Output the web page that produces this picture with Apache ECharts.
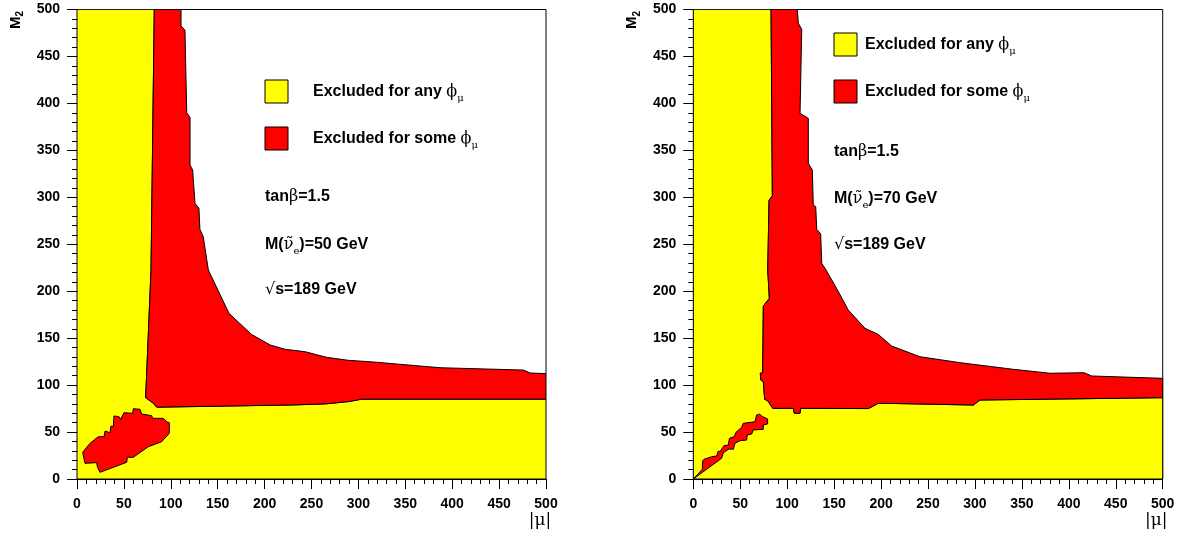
<!DOCTYPE html>
<html><head><meta charset="utf-8">
<script src="https://cdn.jsdelivr.net/npm/echarts@6/dist/echarts.min.js"></script>
<style>html,body{margin:0;padding:0;background:#fff}#c{width:1180px;height:538px}</style>
</head><body><div id="c"></div>
<script>
// ---- axis ----
const axisMin = 0, axisMax = 500, axisStep = 50;
// ---- left panel (M(sneutrino)=50 GeV) ----
const leftYellow = [[0,0],[0,500],[82.4,500],[78.9,222],[73.2,86.6],[81,81],[85,76.5],[227,78.8],[265,80],[290,82.5],[303.5,85],[500,85],[500,0]];
const leftRedMain = [[82.4,500],[78.9,222],[73.2,86.6],[81,81],[85,76.5],[227,78.8],[265,80],[290,82.5],[303.5,85],[500,85],
  [500,112.2],[483,112.9],[476,116],[387,118.5],[316,124.6],[289,126.4],[266,129.6],[243,135.6],[222,138.1],[206,142.7],[186,154],[162,176.5],
  [140,222.6],[134.6,258],[131,266],[130,288.3],[125.8,293.6],[123.3,329],[120.5,334.4],[120.5,385],[117,390],[115.1,478],[110.9,482.4],[110.9,500]];
const leftRedIsland = [[6.0,28.4],[8.5,16.7],[21,17.4],[21.7,13.1],[24.5,7.1],[53,17.8],[53.6,23.1],[60,23.1],[76,34.4],[90.3,39.7],[98.4,48.7],[98.4,60],
  [95.6,61],[92,64.6],[80.7,64.6],[79.6,67.4],[69,69.2],[67.2,74.2],[60,74.9],[59.4,70],[50.1,70.6],[46.6,63.6],[44.8,66.4],[39.4,67.1],[38.7,55.7],
  [36.2,56.4],[35.2,49.3],[29.9,51.1],[28.8,45],[22.7,45],[13.9,38]];
// ---- right panel (M(sneutrino)=70 GeV) ----
const rightYellow = [[0,0],[0,500],[82.8,500],[84.2,301.4],[80.7,297],[79.3,222.6],[81,192.4],[74.6,184.2],[73.9,113.2],[71.4,112.6],[71.8,105.4],[74.6,103.6],
  [76,84.9],[79.2,83.4],[84.6,75.3],[106.5,75.3],[107.6,70],[113.7,70],[114.3,75.3],[186.4,75],[197,80.6],[220,80.3],[298.3,78.8],[305.4,84.1],[500,86.6],[500,0]];
const rightRedMain = [[82.8,500],[84.2,301.4],[80.7,297],[79.3,222.6],[81,192.4],[74.6,184.2],[73.9,113.2],[71.4,112.6],[71.8,105.4],[74.6,103.6],
  [76,84.9],[79.2,83.4],[84.6,75.3],[106.5,75.3],[107.6,70],[113.7,70],[114.3,75.3],[186.4,75],[197,80.6],[220,80.3],[298.3,78.8],[305.4,84.1],[500,86.6],
  [500,107.2],[424.4,109.7],[416.2,113.2],[380,112.6],[340.9,116.8],[284.1,123.9],[241.5,130.2],[211.3,141.6],[197,154],[182.9,160.5],[165,180],
  [155.5,197.8],[141.4,222.6],[136.8,229.7],[135.7,260.9],[131.5,265.9],[130.4,290],[127.8,291.8],[126.8,329.1],[122.5,336.2],[122.5,384.1],
  [113.7,389.4],[115.5,478.9],[111.9,485.3],[110.8,500]];
const rightRedIsland = [[0,0],[30.2,22],[32,28],[38,32],[42.6,31.6],[44.4,38],[49.7,40.8],[56.9,41.5],[57.5,46.9],[62.2,47.9],[63.9,52.2],[74.6,52.9],
  [74.6,57.5],[79.2,58.6],[79.2,63.9],[73.9,66.4],[70.3,69.2],[67.5,68.2],[65.7,61],[53.3,59.3],[51.5,55],[45.5,49.7],[43.4,45],[38.4,43.3],[37.3,36.2],
  [32.7,35.5],[28.4,29.1],[26.6,29.8],[24.9,24.5],[19.6,23.7],[11.4,21],[10,19.5],[9.6,10.3]];
// ---- texts ----
const legendAny = 'Excluded for any ';
const legendSome = 'Excluded for some ';
const tanBetaText = 'tanβ=1.5';
const snuMasses = ['50', '70'];
const sqrtsText = 's=189 GeV';

const YELLOW = '#ffff00', RED = '#ff0000';
const FONT = '"Liberation Sans", Arial, sans-serif';
const GREEK = '"DejaVu Serif", "Liberation Serif", serif';

function polySeries(poly, color, gi, z) {
  return {
    type: 'custom', xAxisIndex: gi, yAxisIndex: gi, clip: true, z: z, silent: true,
    data: poly, encode: {x: 0, y: 1},
    renderItem: function (params, api) {
      if (params.dataIndex !== 0) return null;
      return {type: 'polygon', shape: {points: poly.map(p => api.coord(p))},
        style: {fill: color, stroke: '#000', lineWidth: 1}};
    }
  };
}
function xAx(gi) {
  return {type: 'value', gridIndex: gi, min: axisMin, max: axisMax, interval: axisStep,
    axisLine: {show: true, onZero: false, lineStyle: {color: '#000', width: 1}},
    axisTick: {show: true, length: 10, lineStyle: {color: '#000'}},
    minorTick: {show: true, splitNumber: 5, length: 5, lineStyle: {color: '#000'}},
    splitLine: {show: false},
    axisLabel: {color: '#000', fontFamily: FONT, fontWeight: 'bold', fontSize: 14, margin: 18}};
}
function yAx(gi) {
  const a = xAx(gi); a.axisLabel = Object.assign({}, a.axisLabel, {margin: 17}); return a;
}
const rich = {
  b: {fontFamily: FONT, fontWeight: 'bold', fontSize: 16, lineHeight: 22, color: '#000'},
  g: {fontFamily: GREEK, fontWeight: 'normal', fontSize: 16, lineHeight: 22, color: '#000'},
  s: {fontFamily: GREEK, fontWeight: 'normal', fontSize: 10, lineHeight: 11, verticalAlign: 'bottom', color: '#000'}
};
function txt(x, y, text) {
  return {type: 'text', x: x, y: y, z: 100, style: {text: text, rich: rich, align: 'left', verticalAlign: 'middle'}};
}
function box(x, y, color) {
  return {type: 'rect', shape: {x: x, y: y, width: 23, height: 23}, z: 100, style: {fill: color, stroke: '#000', lineWidth: 1}};
}
const panels = [
  {left: 77, legX: 265, legY1: 80, legY2: 127, txX: 313, infoX: 265, infoY: [197, 245, 290]},
  {left: 693.3, legX: 834, legY1: 33, legY2: 80, txX: 865, infoX: 834, infoY: [152, 199, 245]}
];
const graphics = [];
panels.forEach((p, i) => {
  graphics.push(box(p.legX, p.legY1, YELLOW), box(p.legX, p.legY2, RED));
  graphics.push(txt(p.txX, p.legY1 + 12, '{b|' + legendAny + '}{g|ϕ}{s|μ}'));
  graphics.push(txt(p.txX, p.legY2 + 12, '{b|' + legendSome + '}{g|ϕ}{s|μ}'));
  graphics.push(txt(p.infoX, p.infoY[0], '{b|tan}{g|β}{b|=1.5}'));
  graphics.push(txt(p.infoX, p.infoY[1], '{b|M(}{g|ν̃}{s|e}{b|)=' + snuMasses[i] + ' GeV}'));
  graphics.push(txt(p.infoX, p.infoY[2], '{g|√}{b|' + sqrtsText + '}'));
  // axis titles
  graphics.push({type: 'text', x: p.left + 463, y: 521, z: 100,
    style: {text: '|μ|', font: 'normal 17px ' + GREEK, fill: '#000', align: 'center', verticalAlign: 'middle'}});
  graphics.push({type: 'text', x: p.left - 61, y: 20, rotation: Math.PI / 2, z: 100,
    style: {text: '{m|M}{t|2}', rich: {m: {fontFamily: FONT, fontWeight: 'bold', fontSize: 15, lineHeight: 19},
      t: {fontFamily: FONT, fontWeight: 'bold', fontSize: 10, lineHeight: 10, verticalAlign: 'bottom'}},
      align: 'center', verticalAlign: 'middle'}});
});

const chart = echarts.init(document.getElementById('c'), null, {renderer: 'canvas'});
chart.setOption({
  animation: false,
  backgroundColor: '#fff',
  grid: [
    {left: 77, top: 9.5, width: 469, height: 469.5, show: true, borderColor: '#000', borderWidth: 1, backgroundColor: 'transparent'},
    {left: 693.3, top: 9.5, width: 469.4, height: 469.5, show: true, borderColor: '#000', borderWidth: 1, backgroundColor: 'transparent'}
  ],
  xAxis: [xAx(0), xAx(1)],
  yAxis: [yAx(0), yAx(1)],
  series: [
    polySeries(leftYellow, YELLOW, 0, 1),
    polySeries(leftRedMain, RED, 0, 2),
    polySeries(leftRedIsland, RED, 0, 2),
    polySeries(rightYellow, YELLOW, 1, 1),
    polySeries(rightRedMain, RED, 1, 2),
    polySeries(rightRedIsland, RED, 1, 2)
  ],
  graphic: graphics
});
</script></body></html>
